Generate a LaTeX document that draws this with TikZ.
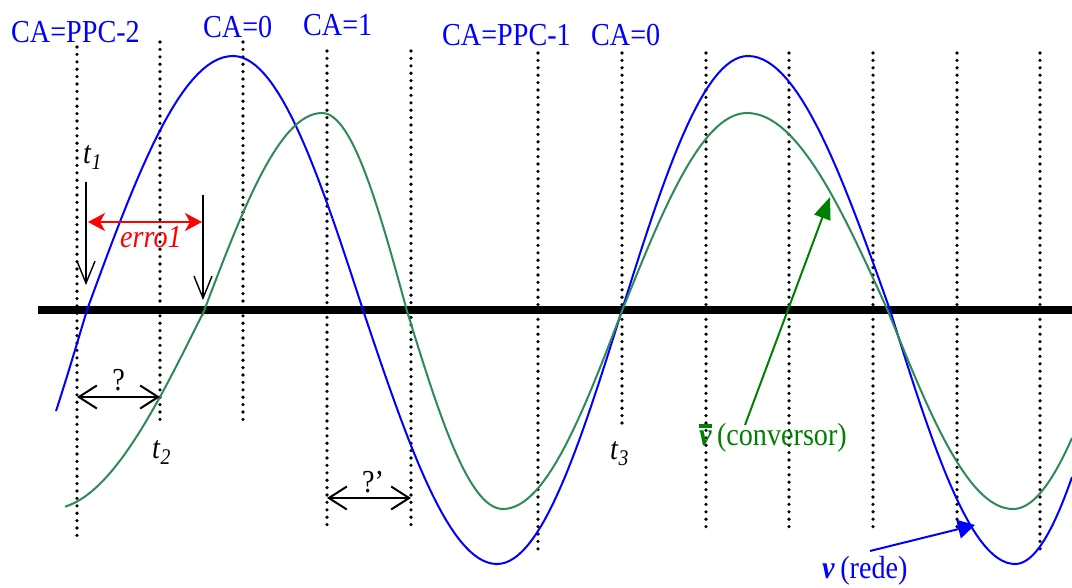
\documentclass[tikz,border=0pt]{standalone}
\usepackage{fontspec}
\setmainfont{Liberation Serif}[FakeStretch=0.88]
\usetikzlibrary{arrows.meta}
\definecolor{cblue}{RGB}{0,0,255}
\definecolor{cgreen}{RGB}{46,139,87}
\definecolor{agreen}{RGB}{0,128,0}
\definecolor{cred}{RGB}{255,0,0}
\begin{document}
\begin{tikzpicture}[x=1pt,y=-1pt,
  txt/.style={font=\fontsize{32}{36}\selectfont, inner sep=0pt},
  calbl/.style={txt, text=cblue, anchor=base west},
  tlbl/.style={txt, anchor=base west},
  dotline/.style={line width=3.6pt, line cap=round, dash pattern=on 0pt off 7.4pt},
  bluec/.style={cblue, line width=2pt},
  greenc/.style={cgreen, line width=2pt},
  axisline/.style={line width=8pt},
  downarrow/.style={line width=1.4pt, -{Straight Barb[length=22pt,width=18pt]}},
  dblarrow/.style={line width=2pt, {Straight Barb[length=18pt,width=23pt]}-{Straight Barb[length=18pt,width=23pt]}},
  redarrow/.style={cred, line width=2pt, {Stealth[length=17pt,width=18pt,inset=5pt]}-{Stealth[length=17pt,width=18pt,inset=5pt]}},
  garrow/.style={agreen, line width=2pt, -{Triangle[length=22pt,width=17pt]}},
  barrow/.style={cblue, line width=2pt, -{Triangle[length=17pt,width=19pt]}}
]
\useasboundingbox (0,0) rectangle (1072,587);

% vertical dotted lines
\foreach \xx/\ya/\yb in {77/47/539, 160/42/425, 243/42/425, 327/51/525, 411/51/525,
  538/53/552, 622/53/425, 706/53/527, 789/53/527, 873/53/527, 957/53/527, 1040/53/552}
  \draw[dotline] (\xx,\ya) -- (\xx,\yb);

% zero line
\draw[axisline] (38,310) -- (1072,310);

% blue curve (rede)
\draw[bluec] (56,{310-254*sin(-23.45)})
  \foreach \a/\b/\p/\L in {56/87/-23.45/119, 87/233/0/146, 233/363/90/130, 363/497/180/134,
     497/622/270/125, 622/748/360/126, 748/890/450/142, 890/1015/540/125, 1015/1072/630/105}
  { -- plot[domain=\a:\b, samples=30] (\x,{310-254*sin(\p+(\x-\a)/\L*90)}) };

% green curve (conversor)
\draw[greenc] (65,{311-198*sin(-81.23)})
  \foreach \a/\b/\p/\L in {65/204/-81.23/154, 204/322/0/118, 322/407/90/85, 407/503/180/96,
     503/622/270/119, 622/747/360/125, 747/888/450/141, 888/1013/540/125, 1013/1072/630/106}
  { -- plot[domain=\a:\b, samples=30] (\x,{311-198*sin(\p+(\x-\a)/\L*90)}) };

% top labels
\node[calbl] (ca1) at (11,42) {CA=PPC-2};
\node[calbl] (ca2) at (203,37) {CA=0};
\node[calbl] (ca3) at (303,35) {CA=1};
\node[calbl] (ca4) at (442,45) {CA=PPC-1};
\node[calbl] (ca5) at (591,45) {CA=0};

% time labels
\node[tlbl] (t1) at (83,163) {\textit{t}\textsubscript{\textit{1}}};
\node[tlbl] (t2) at (152,458) {\textit{t}\textsubscript{\textit{2}}};
\node[tlbl] (t3) at (610,459) {\textit{t}\textsubscript{\textit{3}}};

% t1 / t2 down arrows
\coordinate (a1s) at (86,182);
\coordinate (a1e) at (86,285);
\coordinate (a2s) at (203,195);
\coordinate (a2e) at (203,300);
\draw[downarrow] (a1s) -- (a1e);
\draw[downarrow] (a2s) -- (a2e);

% erro1
\coordinate (e1) at (88,222);
\coordinate (e2) at (202,222);
\draw[redarrow] (e1) -- (e2);
\node[tlbl, text=cred] (erro) at (120,247) {\textit{erro1}};

% ? arrows
\coordinate (q1) at (77,397);
\coordinate (q2) at (160,397);
\draw[dblarrow] (q1) -- (q2);
\node[txt, anchor=base] (qlbl) at (118.5,390) {?};
\coordinate (p1) at (327,498);
\coordinate (p2) at (411,498);
\draw[dblarrow] (p1) -- (p2);
\node[tlbl] (plbl) at (362,492) {?’};

% conversor label
\node[tlbl, text=agreen] (conv) at (699,445)
  {\vbox{\hrule height 4pt\kern 2pt\hbox{\bfseries\itshape v}}\,(conversor)};
\coordinate (gtip) at (830,197);
\draw[garrow] (745,425) -- (gtip);

% rede label
\node[tlbl, text=cblue] (rede) at (822,578) {\textbf{\textit{v}}\,(rede)};
\coordinate (btip) at (975,525);
\draw[barrow] (870,551) -- (btip);
\end{tikzpicture}
\end{document}
